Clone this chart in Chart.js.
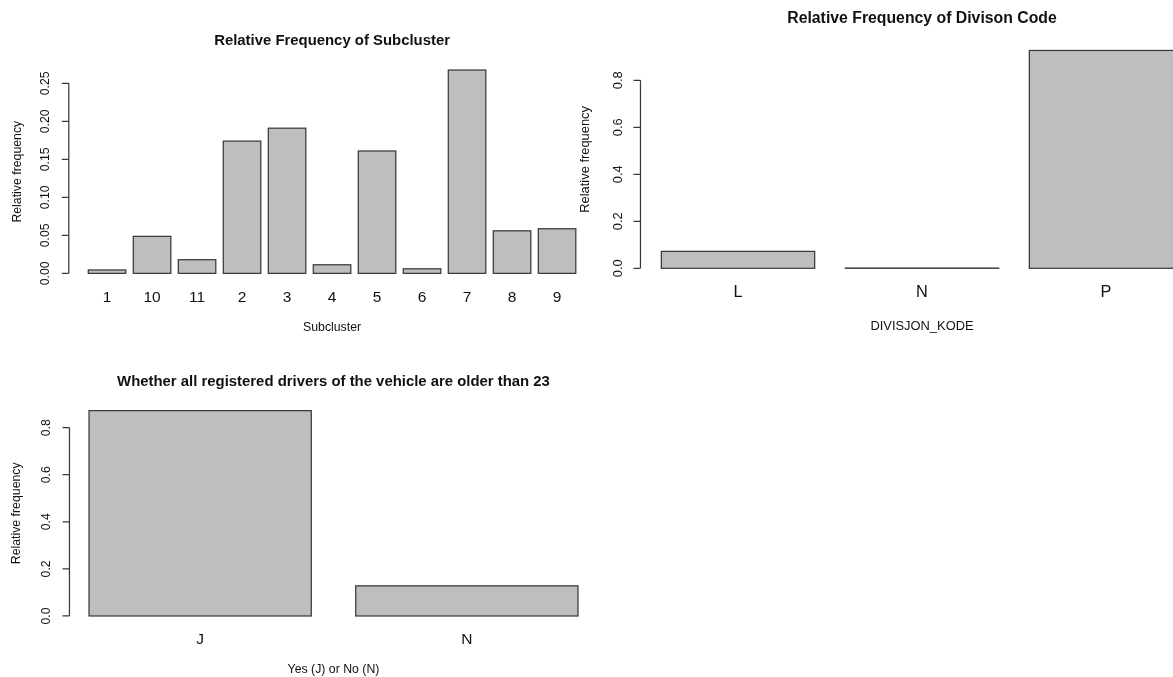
<!DOCTYPE html>
<html>
<head>
<meta charset="utf-8">
<script src="https://cdn.jsdelivr.net/npm/chart.js@4/dist/chart.umd.min.js"></script>
<style>
  html, body { margin: 0; padding: 0; background: #ffffff; overflow: hidden; }
  #page { position: relative; width: 1173px; height: 677px; overflow: hidden; background: #ffffff; }
  #page canvas { position: absolute; left: 0; top: 0; }
</style>
</head>
<body>
<div id="page">
  <canvas id="subcluster" width="1240" height="677"></canvas>
  <canvas id="division" width="1240" height="677"></canvas>
  <canvas id="drivers" width="1240" height="677"></canvas>
</div>
<script>
// Relative frequencies per category
const subclusterLabels = ['1', '10', '11', '2', '3', '4', '5', '6', '7', '8', '9'];
const subclusterShares = [0.0045, 0.0487, 0.0180, 0.1740, 0.1910, 0.0113, 0.1610, 0.0060, 0.2675, 0.0560, 0.0587];
const subclusterTicks = [0, 0.05, 0.10, 0.15, 0.20, 0.25];

const divisionLabels = ['L', 'N', 'P'];
const divisionShares = [0.072, 0.001, 0.927];
const divisionTicks = [0, 0.2, 0.4, 0.6, 0.8];

const driverLabels = ['J', 'N'];
const driverShares = [0.872, 0.128];
const driverTicks = [0, 0.2, 0.4, 0.6, 0.8];

const FONT = '"Liberation Sans", Arial, Helvetica, sans-serif';
const BAR_FILL = '#BEBEBE';
const INK = '#3a3a3a';
const TEXT = '#111111';

// Base-graphics look: outlined bars, axis spanning the tick range,
// rotated tick labels, title and axis titles around the plot region.
const baseGraphics = {
  id: 'baseGraphics',
  afterDatasetsDraw(chart, args, o) {
    const ctx = chart.ctx;
    const xs = chart.scales.x, ys = chart.scales.y;
    const bars = chart.getDatasetMeta(0).data;
    const n = chart.data.labels.length;

    ctx.save();
    ctx.strokeStyle = INK;
    ctx.lineWidth = 1.25;
    bars.forEach(bar => {
      const p = bar.getProps(['x', 'y', 'base', 'width'], true);
      const top = Math.min(p.y, p.base);
      ctx.strokeRect(p.x - p.width / 2, top, p.width, Math.abs(p.base - p.y));
    });

    // plot region: bar span widened by 4% on each side
    const cell = xs.getPixelForValue(1) - xs.getPixelForValue(0);
    const span = (n - 1) + 5 / 6;
    const ext = (5 / 12 + 0.04 * span) * cell;
    const plotL = xs.getPixelForValue(0) - ext;
    const plotR = xs.getPixelForValue(n - 1) + ext;
    const midX = (plotL + plotR) / 2;
    const midY = (chart.chartArea.top + chart.chartArea.bottom) / 2;

    // y axis
    const t = o.ticks;
    ctx.beginPath();
    ctx.moveTo(plotL, ys.getPixelForValue(t[0]));
    ctx.lineTo(plotL, ys.getPixelForValue(t[t.length - 1]));
    t.forEach(v => {
      const y = ys.getPixelForValue(v);
      ctx.moveTo(plotL, y);
      ctx.lineTo(plotL - 7, y);
    });
    ctx.stroke();

    ctx.fillStyle = TEXT;
    ctx.font = `${o.baseSize}px ${FONT}`;
    ctx.textAlign = 'center';
    ctx.textBaseline = 'alphabetic';
    t.forEach(v => {
      ctx.save();
      ctx.translate(plotL - o.tickGap, ys.getPixelForValue(v));
      ctx.rotate(-Math.PI / 2);
      ctx.fillText(v.toFixed(o.decimals), 0, 0);
      ctx.restore();
    });

    // y axis title
    ctx.save();
    ctx.translate(o.yTitleX, midY);
    ctx.rotate(-Math.PI / 2);
    ctx.textBaseline = 'middle';
    ctx.fillText('Relative frequency', 0, 0);
    ctx.restore();

    // category names under the bars
    ctx.textBaseline = 'middle';
    ctx.font = `${o.nameSize}px ${FONT}`;
    bars.forEach((bar, i) => ctx.fillText(chart.data.labels[i], bar.x, o.namesY));

    // x axis title
    ctx.font = `${o.baseSize}px ${FONT}`;
    ctx.fillText(o.xTitle, midX, o.xTitleY);

    // main title
    ctx.font = `bold ${o.titleSize}px ${FONT}`;
    ctx.fillText(o.title, midX, o.titleY);
    ctx.restore();
  }
};

function makeBarChart(id, labels, values, area, text) {
  const canvas = document.getElementById(id);
  const W = canvas.width, H = canvas.height;
  const peak = Math.max(...values);
  return new Chart(canvas, {
    type: 'bar',
    data: {
      labels: labels,
      datasets: [{
        data: values,
        backgroundColor: BAR_FILL,
        borderWidth: 0,
        barPercentage: 5 / 6,
        categoryPercentage: 1
      }]
    },
    options: {
      responsive: false,
      animation: false,
      events: [],
      layout: {
        padding: { left: area.left, right: W - area.right, top: area.top, bottom: H - area.bottom }
      },
      scales: {
        x: { type: 'category', display: false, offset: true },
        y: { type: 'linear', display: false, min: -0.04 * peak, max: 1.04 * peak }
      },
      plugins: {
        legend: { display: false },
        tooltip: { enabled: false },
        baseGraphics: text
      }
    },
    plugins: [baseGraphics]
  });
}

makeBarChart('subcluster', subclusterLabels, subclusterShares,
  { left: 84.55, right: 579.55, top: 61.9, bottom: 281.5 },
  { ticks: subclusterTicks, decimals: 2, title: 'Relative Frequency of Subcluster',
    xTitle: 'Subcluster', titleY: 40.5, namesY: 297.5, xTitleY: 327.5, yTitleX: 17.5,
    baseSize: 12.3, nameSize: 15.5, titleSize: 14.9, tickGap: 19.5 });

makeBarChart('division', divisionLabels, divisionShares,
  { left: 646, right: 1198, top: 41.74, bottom: 277.0 },
  { ticks: divisionTicks, decimals: 1, title: 'Relative Frequency of Divison Code',
    xTitle: 'DIVISJON_KODE', titleY: 18.5, namesY: 292.5, xTitleY: 326, yTitleX: 585,
    baseSize: 12.9, nameSize: 16.3, titleSize: 15.8, tickGap: 18 });

makeBarChart('drivers', driverLabels, driverShares,
  { left: 66.8, right: 600.2, top: 402.43, bottom: 624.2 },
  { ticks: driverTicks, decimals: 1, title: 'Whether all registered drivers of the vehicle are older than 23',
    xTitle: 'Yes (J) or No (N)', titleY: 381.5, namesY: 640, xTitleY: 670, yTitleX: 17,
    baseSize: 12.3, nameSize: 15.5, titleSize: 14.9, tickGap: 19.5 });
</script>
</body>
</html>
